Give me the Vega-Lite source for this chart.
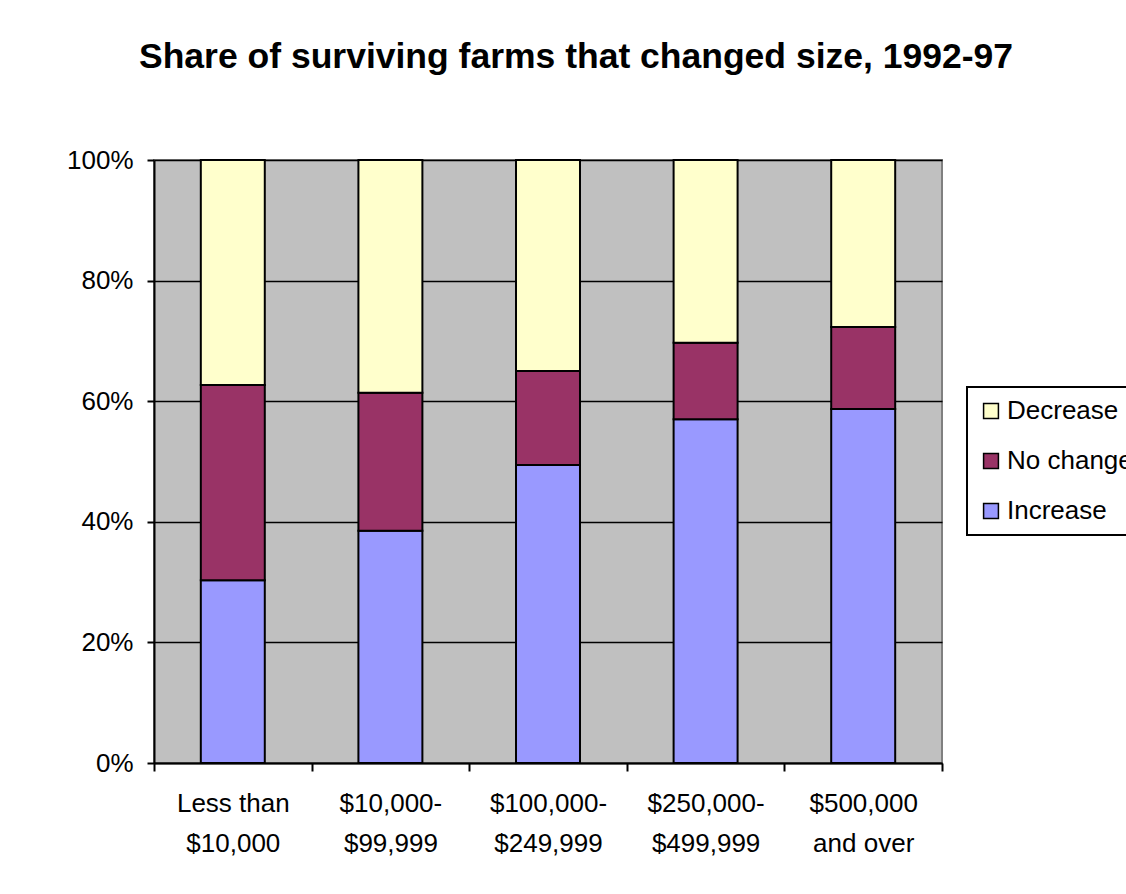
{
  "$schema": "https://vega.github.io/schema/vega-lite/v6.json",
  "width": 788,
  "height": 603,
  "autosize": {"type": "none"},
  "padding": {"left": 154, "top": 160, "right": 184, "bottom": 131},
  "background": "white",
  "title": {
    "text": "Share of surviving farms that changed size, 1992-97",
    "font": "Liberation Sans",
    "fontSize": 35.5,
    "fontWeight": "bold",
    "color": "black",
    "anchor": "middle",
    "frame": "group",
    "dx": 28,
    "offset": 72
  },
  "data": {
    "values": [
      {"size": "Less than\n$10,000", "change": "Increase", "share": 30.3, "ord": 1},
      {"size": "Less than\n$10,000", "change": "No change", "share": 32.4, "ord": 2},
      {"size": "Less than\n$10,000", "change": "Decrease", "share": 37.3, "ord": 3},
      {"size": "$10,000-\n$99,999", "change": "Increase", "share": 38.5, "ord": 1},
      {"size": "$10,000-\n$99,999", "change": "No change", "share": 22.9, "ord": 2},
      {"size": "$10,000-\n$99,999", "change": "Decrease", "share": 38.6, "ord": 3},
      {"size": "$100,000-\n$249,999", "change": "Increase", "share": 49.4, "ord": 1},
      {"size": "$100,000-\n$249,999", "change": "No change", "share": 15.6, "ord": 2},
      {"size": "$100,000-\n$249,999", "change": "Decrease", "share": 35.0, "ord": 3},
      {"size": "$250,000-\n$499,999", "change": "Increase", "share": 57.0, "ord": 1},
      {"size": "$250,000-\n$499,999", "change": "No change", "share": 12.7, "ord": 2},
      {"size": "$250,000-\n$499,999", "change": "Decrease", "share": 30.3, "ord": 3},
      {"size": "$500,000\nand over", "change": "Increase", "share": 58.7, "ord": 1},
      {"size": "$500,000\nand over", "change": "No change", "share": 13.6, "ord": 2},
      {"size": "$500,000\nand over", "change": "Decrease", "share": 27.7, "ord": 3}
    ]
  },
  "mark": {"type": "bar", "stroke": "black", "strokeWidth": 2, "width": {"band": 0.406}},
  "encoding": {
    "x": {
      "field": "size",
      "type": "nominal",
      "sort": null,
      "scale": {"paddingInner": 0, "paddingOuter": 0},
      "axis": {
        "title": null,
        "labelAngle": 0,
        "labelExpr": "split(datum.label, '\\n')",
        "labelFont": "Liberation Sans",
        "labelFontSize": 26,
        "labelColor": "black",
        "labelLineHeight": 40,
        "labelPadding": 19,
        "tickBand": "extent",
        "tickSize": 8,
        "tickColor": "black",
        "tickWidth": 2,
        "domainColor": "black",
        "domainWidth": 2,
        "grid": false
      }
    },
    "y": {
      "field": "share",
      "type": "quantitative",
      "stack": "normalize",
      "scale": {"domain": [0, 1], "nice": false},
      "axis": {
        "title": null,
        "values": [0, 0.2, 0.4, 0.6, 0.8, 1],
        "format": ".0%",
        "labelFont": "Liberation Sans",
        "labelFontSize": 26,
        "labelColor": "black",
        "labelPadding": 14,
        "tickSize": 7,
        "tickColor": "black",
        "tickWidth": 2,
        "domainColor": "black",
        "domainWidth": 2,
        "grid": true,
        "gridColor": "black",
        "gridWidth": 1.5,
        "gridOpacity": 1
      }
    },
    "color": {
      "field": "change",
      "type": "nominal",
      "scale": {
        "domain": ["Decrease", "No change", "Increase"],
        "range": ["#FFFFCC", "#993366", "#9999FF"]
      },
      "legend": {
        "title": null,
        "orient": "none",
        "legendX": 813,
        "legendY": 227,
        "symbolType": "square",
        "symbolSize": 220,
        "symbolStrokeColor": "black",
        "symbolStrokeWidth": 1.5,
        "symbolOpacity": 1,
        "labelFont": "Liberation Sans",
        "labelFontSize": 26,
        "labelColor": "black",
        "labelOffset": 3,
        "rowPadding": 24,
        "padding": 11,
        "strokeColor": "black",
        "fillColor": "white",
        "encode": {
          "legend": {"update": {"strokeWidth": {"value": 2}}}
        }
      }
    },
    "order": {"field": "ord", "type": "quantitative"}
  },
  "config": {
    "view": {"fill": "#C0C0C0", "stroke": "#808080", "strokeWidth": 2},
    "bar": {"opacity": 1}
  }
}
